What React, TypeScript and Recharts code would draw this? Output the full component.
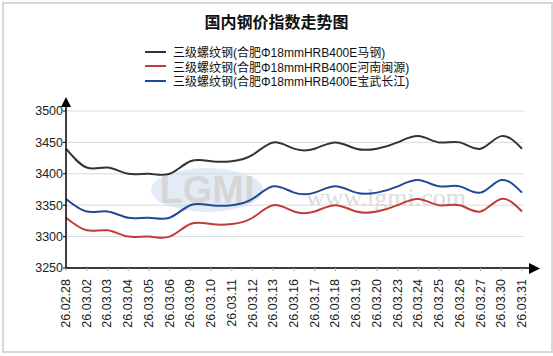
import React from 'react';
import { LineChart, Line, XAxis, YAxis, CartesianGrid } from 'recharts';

document.body.style.margin = '0';

const dates = [
  '26.02.28', '26.03.02', '26.03.03', '26.03.04', '26.03.05', '26.03.06', '26.03.09', '26.03.10',
  '26.03.11', '26.03.12', '26.03.13', '26.03.16', '26.03.17', '26.03.18', '26.03.19', '26.03.20',
  '26.03.23', '26.03.24', '26.03.25', '26.03.26', '26.03.27', '26.03.30', '26.03.31',
];
const maSteel = [3440, 3410, 3410, 3400, 3400, 3400, 3420, 3420, 3420, 3430, 3450, 3440, 3440, 3450, 3440, 3440, 3450, 3460, 3450, 3450, 3440, 3460, 3440];
const henanMinyuan = [3330, 3310, 3310, 3300, 3300, 3300, 3320, 3320, 3320, 3330, 3350, 3340, 3340, 3350, 3340, 3340, 3350, 3360, 3350, 3350, 3340, 3360, 3340];
const baowuChangjiang = [3360, 3340, 3340, 3330, 3330, 3330, 3350, 3350, 3350, 3360, 3380, 3370, 3370, 3380, 3370, 3370, 3380, 3390, 3380, 3380, 3370, 3390, 3370];
const yTicks = [3250, 3300, 3350, 3400, 3450, 3500];

const seriesNames = [
  '三级螺纹钢(合肥Φ18mmHRB400E马钢)',
  '三级螺纹钢(合肥Φ18mmHRB400E河南闽源)',
  '三级螺纹钢(合肥Φ18mmHRB400E宝武长江)',
];
const seriesColors = ['#333333', '#c23b36', '#1f4a9a'];

const data = dates.map((d, i) => ({
  date: d,
  ma: maSteel[i],
  henan: henanMinyuan[i],
  baowu: baowuChangjiang[i],
}));

const font = '"Liberation Sans", Arial, "Noto Sans CJK SC", sans-serif';

const DateTick = (props: any) => {
  const { x, y, payload } = props;
  return (
    <text
      x={x}
      y={y}
      transform={`rotate(-90, ${x}, ${y})`}
      textAnchor="end"
      dominantBaseline="central"
      fontSize={12.5}
      fontFamily={font}
      fill="#222"
    >
      {payload.value}
    </text>
  );
};

export default function App() {
  return (
    <div style={{ position: 'relative', width: 553, height: 356, background: '#fff', fontFamily: font }}>
      <div style={{ position: 'absolute', left: 2, top: 2, width: 547, height: 347, border: '2px solid #d8d8d8' }} />
      <div style={{ position: 'absolute', left: 0, top: 9, width: 553, textAlign: 'center', fontSize: 16, fontWeight: 'bold', color: '#111', fontFamily: '"Noto Sans CJK SC", sans-serif' }}>
        国内钢价指数走势图
      </div>
      {seriesNames.map((n, i) => (
        <div key={n} style={{ position: 'absolute', left: 145, top: 44 + i * 14.5, height: 15, display: 'flex', alignItems: 'center', fontSize: 12, color: '#111', whiteSpace: 'nowrap' }}>
          <span style={{ display: 'inline-block', width: 21, height: 2, background: seriesColors[i], marginRight: 7 }} />
          <span>{n}</span>
        </div>
      ))}
      <svg style={{ position: 'absolute', left: 0, top: 0 }} width={553} height={356}>
        <ellipse cx={207} cy={190} rx={56} ry={22} fill="#e3ecf6" />
        <text x={207} y={203} textAnchor="middle" fontSize={38} fontWeight="bold" fontFamily={font} fill="#d6d6d6">LGMI</text>
        <text x={386} y={206} textAnchor="middle" fontSize={26} fontFamily='"Liberation Serif", serif' fill="#dcdcdc">www.lgmi.com</text>
      </svg>
      <div style={{ position: 'absolute', left: 0, top: 0 }}>
        <LineChart width={553} height={356} data={data} margin={{ top: 111, right: 29, bottom: 8, left: 0 }}>
          <CartesianGrid vertical={false} stroke="#d9d9d9" />
          <XAxis
            dataKey="date"
            interval={0}
            height={80}
            padding={{ left: 0, right: 2 }}
            axisLine={{ stroke: '#000', strokeWidth: 1.5 }}
            tickLine={{ stroke: '#aaa' }}
            tickSize={3}
            tickMargin={8}
            tick={<DateTick />}
          />
          <YAxis
            domain={[3250, 3500]}
            ticks={yTicks}
            width={66}
            axisLine={{ stroke: '#000', strokeWidth: 1.5 }}
            tickLine={{ stroke: '#000' }}
            tickSize={3}
            tickMargin={0}
            tick={{ fontSize: 12.5, fill: '#222', fontFamily: font }}
          />
          <Line type="natural" dataKey="ma" stroke={seriesColors[0]} strokeWidth={2} dot={false} isAnimationActive={false} />
          <Line type="natural" dataKey="henan" stroke={seriesColors[1]} strokeWidth={2} dot={false} isAnimationActive={false} />
          <Line type="natural" dataKey="baowu" stroke={seriesColors[2]} strokeWidth={2} dot={false} isAnimationActive={false} />
        </LineChart>
      </div>
      <svg style={{ position: 'absolute', left: 0, top: 0, pointerEvents: 'none' }} width={553} height={356}>
        <line x1={66} y1={111} x2={66} y2={104} stroke="#000" strokeWidth={1.5} />
        <polygon points="61,107 71,107 66,97" fill="#000" />
        <line x1={524} y1={268} x2={532} y2={268} stroke="#000" strokeWidth={1.5} />
        <polygon points="529,263 529,274 540,268.5" fill="#000" />
      </svg>
    </div>
  );
}
